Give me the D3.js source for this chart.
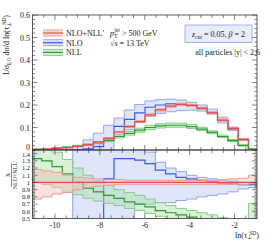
<!DOCTYPE html>
<html>
<head>
<meta charset="utf-8">
<script src="https://cdn.jsdelivr.net/npm/d3@7"></script>
<style>
body{margin:0;background:#fff}
text{font-family:"Liberation Serif","DejaVu Serif",serif;fill:#222}
</style>
</head>
<body>
<svg id="chart" width="266" height="240"></svg>
<script>
// bin edges in ln(tau)
var edges = [-11.05,-10.59,-10.13,-9.67,-9.21,-8.75,-8.29,-7.83,-7.37,-6.91,-6.45,-5.99,-5.53,-5.07,-4.61,-4.14,-3.68,-3.22,-2.76,-2.30,-1.84,-1.38,-0.92];

// main panel
var resCen = [0.002,0.004,0.006,0.010,0.016,0.024,0.036,0.052,0.080,0.104,0.126,0.156,0.178,0.195,0.203,0.198,0.185,0.165,0.133,0.096,0.047,0];
var resLo  = [0.001,0.003,0.005,0.009,0.015,0.022,0.034,0.050,0.077,0.101,0.122,0.151,0.173,0.190,0.198,0.194,0.181,0.161,0.129,0.093,0.045,0];
var resHi  = [0.003,0.005,0.007,0.011,0.017,0.026,0.038,0.055,0.083,0.108,0.130,0.160,0.183,0.200,0.208,0.203,0.190,0.170,0.138,0.100,0.050,0];
var nloCen = [0,0,0,0,0.001,0.005,0.015,0.050,0.105,0.136,0.165,0.190,0.200,0.205,0.203,0.198,0.186,0.167,0.130,0.093,0.046,0];
var nloLo  = [0,0,0,0,0,0,0,0,0.060,0.090,0.125,0.150,0.163,0.170,0.175,0.177,0.173,0.160,0.120,0.087,0.042,0];
var nloHi  = [0,0,0,0,0.020,0.045,0.075,0.110,0.142,0.178,0.202,0.218,0.224,0.226,0.222,0.212,0.200,0.182,0.146,0.102,0.049,0];
var nllCen = [0.003,0.005,0.008,0.012,0.017,0.023,0.032,0.043,0.060,0.074,0.088,0.100,0.107,0.110,0.110,0.104,0.093,0.078,0.060,0.042,0.020,0.004];
var nllLo  = [0.002,0.004,0.006,0.010,0.014,0.019,0.027,0.037,0.053,0.066,0.079,0.091,0.098,0.101,0.101,0.096,0.086,0.072,0.055,0.038,0.017,0.002];
var nllHi  = [0.004,0.006,0.010,0.015,0.021,0.028,0.038,0.050,0.068,0.083,0.097,0.110,0.117,0.120,0.119,0.113,0.101,0.085,0.066,0.047,0.024,0.006];

// ratio panel, X / NLO+NLL'
var rResCen = [1,1,1,1,1,1,1,1,1,1,1,1,1,1,1,1,1,1,1,1,1,1];
var rResLo  = [0.77,0.80,0.84,0.86,0.90,0.93,0.95,0.96,0.97,0.97,0.97,0.97,0.97,0.97,0.97,0.97,0.97,0.97,0.97,0.97,0.97,0.98];
var rResHi  = [1.18,1.16,1.14,1.10,1.07,1.06,1.05,1.04,1.04,1.03,1.03,1.03,1.03,1.03,1.03,1.03,1.03,1.03,1.04,1.05,1.06,1.10];
var rNloCen = [0.2,0.2,0.2,0.2,0.2,0.2,0.3,1.05,1.33,1.33,1.31,1.26,1.17,1.12,1.07,1.05,1.03,1.01,0.99,0.98,0.97,0.97];
var rNloLo  = [0.2,0.2,0.2,0.2,0.2,0.2,0.2,0.2,0.2,0.2,0.70,0.70,0.72,0.72,0.75,0.77,0.80,0.82,0.84,0.87,0.91,0.93];
var rNloHi  = [0.2,0.2,0.2,0.2,1.8,1.8,1.8,1.8,1.8,1.8,1.8,1.42,1.28,1.20,1.15,1.10,1.07,1.05,1.03,1.02,1.00,0.99];
var rNllCen = [1.33,1.30,1.22,1.12,1.00,0.92,0.87,0.82,0.78,0.73,0.70,0.66,0.61,0.58,0.55,0.52,0.49,0.46,0.43,0.40,0.38,0.45];
var rNllLo  = [1.00,0.97,0.93,0.88,0.83,0.78,0.74,0.71,0.68,0.64,0.61,0.57,0.53,0.50,0.47,0.44,0.41,0.38,0.36,0.34,0.32,0.30];
var rNllHi  = [1.55,1.50,1.42,1.32,1.20,1.10,1.02,0.96,0.90,0.86,0.82,0.77,0.72,0.68,0.64,0.61,0.58,0.55,0.51,0.48,0.45,0.71];

var xTicks = [-10,-8,-6,-4,-2];
var topTicks = [0,0.1,0.2,0.3,0.4,0.5,0.6];
var botTicks = [0.5,0.6,0.7,0.8,0.9,1,1.1,1.2,1.3,1.4];

var svg = d3.select("#chart");
var x = d3.scaleLinear().domain([-11,-1]).range([32.5,257]);
var yTop = d3.scaleLinear().domain([0,0.6]).range([150,15]);
var yBot = d3.scaleLinear().domain([0.5,1.45]).range([218.5,150]);

var cols = {
  nll:{line:"#2a9d2a",edge:"#86cc86",fill:"#a8dca8"},
  nlo:{line:"#3b5bea",edge:"#93a6f0",fill:"#b9c5f5"},
  res:{line:"#e0504a",edge:"#f09a94",fill:"#f6bcb8"}
};

svg.append("clipPath").attr("id","clipTop").append("rect")
  .attr("x",32.5).attr("y",15).attr("width",224.5).attr("height",135);
svg.append("clipPath").attr("id","clipBot").append("rect")
  .attr("x",32.5).attr("y",150).attr("width",224.5).attr("height",68.5);

function steps(vals){
  var pts=[];
  vals.forEach(function(v,i){
    pts.push({x:edges[i],v:v});
    pts.push({x:edges[i+1],v:v});
  });
  return pts;
}

function drawSeries(g,y,lo,hi,cen,c){
  var ptsLo=steps(lo), ptsHi=steps(hi);
  var band=ptsLo.map(function(p,i){return {x:p.x,lo:p.v,hi:ptsHi[i].v};});
  g.append("path")
    .attr("d",d3.area().x(function(d){return x(d.x);}).y0(function(d){return y(d.lo);}).y1(function(d){return y(d.hi);})(band))
    .attr("fill",c.fill).attr("fill-opacity",0.45).attr("stroke","none");
  var line=d3.line().x(function(d){return x(d.x);}).y(function(d){return y(d.v);});
  [ptsLo,ptsHi].forEach(function(p){
    g.append("path").attr("d",line(p)).attr("fill","none")
      .attr("stroke",c.edge).attr("stroke-width",1);
  });
  g.append("path").attr("d",line(steps(cen))).attr("fill","none")
    .attr("stroke",c.line).attr("stroke-width",1.2);
}

var gTop=svg.append("g").attr("clip-path","url(#clipTop)");
drawSeries(gTop,yTop,nloLo,nloHi,nloCen,cols.nlo);
drawSeries(gTop,yTop,nllLo,nllHi,nllCen,cols.nll);
drawSeries(gTop,yTop,resLo,resHi,resCen,cols.res);

var gBot=svg.append("g").attr("clip-path","url(#clipBot)");
drawSeries(gBot,yBot,rNloLo,rNloHi,rNloCen,cols.nlo);
drawSeries(gBot,yBot,rNllLo,rNllHi,rNllCen,cols.nll);
drawSeries(gBot,yBot,rResLo,rResHi,rResCen,cols.res);

// frames and ticks
var axisCol="#333";
function frame(y0,y1){
  svg.append("rect").attr("x",32.5).attr("y",y0).attr("width",224.5).attr("height",y1-y0)
    .attr("fill","none").attr("stroke",axisCol).attr("stroke-width",0.8);
}
frame(15,150);
frame(150,218.5);

function yTicksInner(y,lo,hi,step,majors){
  var n=Math.round((hi-lo)/step);
  for(var i=0;i<=n;i++){
    var v=lo+i*step;
    var maj=majors.some(function(m){return Math.abs(m-v)<1e-6;});
    var len=maj?5:2.5;
    [[32.5,len],[257,-len]].forEach(function(s){
      svg.append("line").attr("x1",s[0]).attr("x2",s[0]+s[1])
        .attr("y1",y(v)).attr("y2",y(v)).attr("stroke",axisCol).attr("stroke-width",0.6);
    });
  }
}
yTicksInner(yTop,0,0.6,0.02,topTicks);
yTicksInner(yBot,0.5,1.44,0.02,botTicks);

function xTicksInner(yy,dir){
  for(var v=-10.5;v<=-1.4;v+=0.5){
    var maj=xTicks.indexOf(v)>=0;
    var len=maj?5:3;
    svg.append("line").attr("x1",x(v)).attr("x2",x(v))
      .attr("y1",yy).attr("y2",yy+dir*len).attr("stroke",axisCol).attr("stroke-width",0.6);
  }
}
xTicksInner(15,1);
xTicksInner(150,-1);
xTicksInner(150,1);
xTicksInner(218.5,-1);

svg.selectAll(".tlab").data(topTicks).enter().append("text")
  .attr("x",30).attr("y",function(d){return d===0?yTop(d)-0.5:yTop(d)+3;})
  .attr("text-anchor","end").attr("font-size",8).text(function(d){return d;});
svg.selectAll(".blab").data(botTicks).enter().append("text")
  .attr("x",30).attr("y",function(d){return d===1.4?yBot(d)+3.5:yBot(d)+2.4;})
  .attr("text-anchor","end").attr("font-size",6.5).text(function(d){return d;});
svg.selectAll(".xlab").data(xTicks).enter().append("text")
  .attr("x",function(d){return x(d);}).attr("y",228)
  .attr("text-anchor","middle").attr("font-size",8).text(function(d){return d;});

// axis titles
var xt=svg.append("text").attr("x",259).attr("y",237.5).attr("text-anchor","end").attr("font-size",8);
xt.append("tspan").text("ln(τ");
xt.append("tspan").attr("font-size",5.5).attr("dy",1.5).text("⊥");
xt.append("tspan").attr("font-size",5.5).attr("dy",-4.5).attr("dx",-3).text("SD");
xt.append("tspan").attr("dy",3).text(")");

var yt=svg.append("text").attr("transform","translate(9,15) rotate(-90)")
  .attr("text-anchor","end").attr("font-size",8);
yt.append("tspan").text("1/σ");
yt.append("tspan").attr("font-size",5.5).attr("dy",2).text("LO");
yt.append("tspan").attr("dy",-2).text(" dσ/d ln(τ");
yt.append("tspan").attr("font-size",5.5).attr("dy",2).text("⊥");
yt.append("tspan").attr("font-size",5.5).attr("dy",-5).attr("dx",-3).text("SD");
yt.append("tspan").attr("dy",3).text(")");

var yb=svg.append("g").attr("transform","translate(12,175) rotate(-90)");
yb.append("text").attr("x",0).attr("y",-2).attr("text-anchor","middle").attr("font-size",6).text("X");
yb.append("line").attr("x1",-12).attr("x2",12).attr("y1",-0.5).attr("y2",-0.5).attr("stroke","#222").attr("stroke-width",0.5);
yb.append("text").attr("x",0).attr("y",5).attr("text-anchor","middle").attr("font-size",6).text("NLO+NLL′");

// legend
var legend=[{name:"NLO+NLL′",c:cols.res},{name:"NLO",c:cols.nlo},{name:"NLL",c:cols.nll}];
var lg=svg.selectAll(".leg").data(legend).enter().append("g")
  .attr("transform",function(d,i){return "translate(43,"+(33+i*9.7)+")";});
lg.append("rect").attr("x",0).attr("y",-3).attr("width",20).attr("height",6)
  .attr("fill",function(d){return d.c.fill;}).attr("fill-opacity",0.5);
lg.append("line").attr("x1",0).attr("x2",20).attr("y1",-3).attr("y2",-3).attr("stroke",function(d){return d.c.edge;});
lg.append("line").attr("x1",0).attr("x2",20).attr("y1",3).attr("y2",3).attr("stroke",function(d){return d.c.edge;});
lg.append("line").attr("x1",0).attr("x2",20).attr("y1",0).attr("y2",0).attr("stroke",function(d){return d.c.line;}).attr("stroke-width",1.2);
lg.append("text").attr("x",23).attr("y",3).attr("font-size",8).text(function(d){return d.name;});

// annotations
var t1=svg.append("text").attr("x",110).attr("y",36).attr("font-size",8);
t1.append("tspan").attr("font-style","italic").text("p");
t1.append("tspan").attr("font-size",5.5).attr("dy",2).text("T");
t1.append("tspan").attr("font-size",5.5).attr("dy",-6).attr("dx",-3).text("jet");
t1.append("tspan").attr("dy",4).text(" > 500 GeV");
var t2=svg.append("text").attr("x",110).attr("y",46).attr("font-size",8);
t2.append("tspan").text("√");
t2.append("tspan").attr("font-style","italic").text("s");
t2.append("tspan").text(" = 13 TeV");

svg.append("rect").attr("x",185).attr("y",25).attr("width",67).attr("height",17.5)
  .attr("fill","#e9edfb").attr("stroke","#8fa3ee").attr("stroke-width",0.8);
var t3=svg.append("text").attr("x",218.5).attr("y",36.5).attr("text-anchor","middle").attr("font-size",8);
t3.append("tspan").attr("font-style","italic").text("z");
t3.append("tspan").attr("font-size",5.5).attr("dy",2).text("cut");
t3.append("tspan").attr("dy",-2).text(" = 0.05, ");
t3.append("tspan").attr("font-style","italic").text("β");
t3.append("tspan").text(" = 2");

svg.append("text").attr("x",260).attr("y",55).attr("text-anchor","end").attr("font-size",8)
  .text("all particles |y| < 2.6");
</script>
</body>
</html>
